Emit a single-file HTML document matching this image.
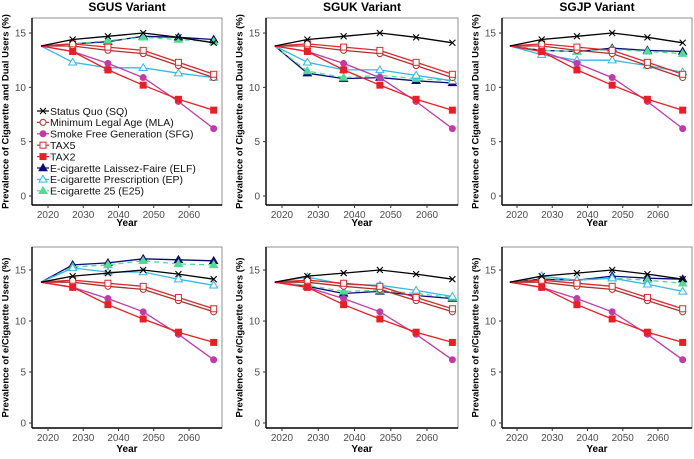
<!DOCTYPE html>
<html><head><meta charset="utf-8"><style>
body{margin:0;background:#fff;}
svg{display:block;font-family:"Liberation Sans",sans-serif;}
</style></head><body>
<svg id="chart" width="694" height="459" viewBox="0 0 694 459" xmlns="http://www.w3.org/2000/svg"></svg>
<script>
const years = [2018, 2027, 2037, 2047, 2057, 2067];
const xTicks = [2020, 2030, 2040, 2050, 2060];
const yTicks = [0, 5, 10, 15];
const panelTitles = ["SGUS Variant", "SGUK Variant", "SGJP Variant"];
const rowTitles = ["Prevalence of Cigarette and Dual Users (%)", "Prevalence of e/Cigarette Users (%)"];
const seriesNames = ["Status Quo (SQ)","Minimum Legal Age (MLA)","Smoke Free Generation (SFG)","TAX5","TAX2","E-cigarette Laissez-Faire (ELF)","E-cigarette Prescription (EP)","E-cigarette 25 (E25)"];
const sq = [13.8, 14.4, 14.7, 15.0, 14.6, 14.1];
const mla = [13.8, 13.8, 13.4, 13.1, 12.0, 10.9];
const sfg = [13.8, 13.3, 12.2, 10.9, 8.7, 6.2];
const tax5 = [13.8, 14.0, 13.7, 13.4, 12.3, 11.2];
const tax2 = [13.8, 13.3, 11.6, 10.2, 8.9, 7.9];
// top row (cigarette and dual users)
const elfTop = [[13.8,14.0,14.2,14.7,14.6,14.4],[13.8,11.3,10.8,10.9,10.6,10.4],[13.8,13.4,13.3,13.6,13.4,13.3]];
const epTop = [[13.8,12.3,11.8,11.8,11.3,10.9],[13.8,12.3,11.6,11.6,11.1,10.6],[13.8,13.0,12.5,12.5,12.0,11.4]];
const e25Top = [[13.8,14.0,14.3,14.6,14.4,14.2],[13.8,11.5,10.9,11.1,10.8,10.6],[13.8,13.4,13.3,13.5,13.3,13.1]];
// bottom row (e/cigarette users)
const elfBot = [[13.8,15.5,15.7,16.1,16.0,15.9],[13.8,13.4,12.7,12.9,12.5,12.2],[13.8,14.1,14.0,14.4,14.2,14.1]];
const epBot = [[13.8,15.2,14.8,14.8,14.1,13.5],[13.8,14.3,13.6,13.5,13.0,12.4],[13.8,14.4,14.0,14.2,13.6,12.9]];
const e25Bot = [[13.8,15.3,15.5,15.9,15.6,15.5],[13.8,13.5,12.9,13.0,12.7,12.3],[13.8,14.2,14.0,14.2,14.0,13.7]];

const NS = "http://www.w3.org/2000/svg";
const svg = document.getElementById('chart');
function mk(tag, attrs, parent){const e=document.createElementNS(NS,tag);for(const k in attrs)e.setAttribute(k,attrs[k]);(parent||svg).appendChild(e);return e;}

const colL=[32,266,502], colR=[222,458,692], x2020=[48,282,517], x2060=[189,427,658];
const rows=[{top:18,bot:205,y15:33,y0:196,title:226},{top:247,bot:428,y15:270,y0:423,title:452}];
const styles=[
 {c:"#000000",m:"x",fill:"none"},
 {c:"#b0302a",m:"circle",fill:"#fff"},
 {c:"#c23aa8",m:"circle",fill:"#c23aa8"},
 {c:"#e2262c",m:"square",fill:"#fff"},
 {c:"#ee1c24",m:"square",fill:"#ee1c24"},
 {c:"#0a0a78",m:"tri",fill:"#0a0a78"},
 {c:"#35b8e6",m:"tri",fill:"#fff"},
 {c:"#4fdc94",m:"tri",fill:"#4fdc94",dash:"5,4"}
];
function marker(g,st,x,y){
  if(st.m==="x"){mk('path',{d:`M${x-3},${y-3}L${x+3},${y+3}M${x-3},${y+3}L${x+3},${y-3}`,stroke:st.c,'stroke-width':1.1},g);}
  else if(st.m==="circle"){mk('circle',{cx:x,cy:y,r:3,fill:st.fill,stroke:st.c,'stroke-width':1},g);}
  else if(st.m==="square"){mk('rect',{x:x-3,y:y-3,width:6,height:6,fill:st.fill,stroke:st.c,'stroke-width':1},g);}
  else {mk('path',{d:`M${x},${y-4}L${x+4},${y+2.7}L${x-4},${y+2.7}Z`,fill:st.fill,stroke:st.c,'stroke-width':1},g);}
}
for(let r=0;r<2;r++){
 for(let c=0;c<3;c++){
  const R=rows[r];
  const xs=v=>x2020[c]+(v-2020)*(x2060[c]-x2020[c])/40;
  const ys=v=>R.y0+(R.y15-R.y0)*v/15;
  const g=mk('g',{});
  
  
  mk('rect',{x:colL[c],y:R.top,width:colR[c]-colL[c],height:R.bot-R.top,fill:'none',stroke:'#777','stroke-width':0.8},g);
  mk('line',{x1:colL[c],y1:R.top,x2:colL[c],y2:R.bot,stroke:'#000','stroke-width':1.4},g);
  mk('line',{x1:colL[c],y1:R.bot,x2:colR[c],y2:R.bot,stroke:'#000','stroke-width':1.4},g);
  yTicks.forEach(t=>{const y=ys(t);mk('line',{x1:colL[c]-3,x2:colL[c],y1:y,y2:y,stroke:'#333'},g);
   const tx=mk('text',{x:colL[c]-6,y:y+3.5,'text-anchor':'end','font-size':10,fill:'#4d4d4d'},g);tx.textContent=t;
   });
  xTicks.forEach(t=>{const x=xs(t);mk('line',{x1:x,x2:x,y1:R.bot,y2:R.bot+3,stroke:'#333'},g);
   const tx=mk('text',{x:x,y:R.bot+13,'text-anchor':'middle','font-size':10,fill:'#4d4d4d'},g);tx.textContent=t;
   });
  const xt=mk('text',{x:(colL[c]+colR[c])/2,y:R.title,'text-anchor':'middle','font-size':10,'font-weight':'bold'},g);xt.textContent='Year';
  
  const tx0=[6,240,476][c], cy=(R.top+R.bot)/2;
  const yt=mk('text',{x:tx0,y:cy,transform:`rotate(-90 ${tx0} ${cy})`,'text-anchor':'middle','dominant-baseline':'central','font-size':9.5,'font-weight':'bold'},g);yt.textContent=rowTitles[r];
  
  if(r===0){const pt=mk('text',{x:(colL[c]+colR[c])/2,y:11,'text-anchor':'middle','font-size':12,'font-weight':'bold'},g);pt.textContent=panelTitles[c];
   }
  const data=[sq,mla,sfg,tax5,tax2,(r?elfBot:elfTop)[c],(r?epBot:epTop)[c],(r?e25Bot:e25Top)[c]];
  const order=[5,7,6,1,3,2,4,0];
  order.forEach(i=>{
   const st=styles[i], sg=mk('g',{},g);
   
   
   const d=data[i].map((v,k)=>(k?'L':'M')+xs(years[k]).toFixed(1)+','+ys(v).toFixed(1)).join('');
   const p=mk('path',{d:d,fill:'none',stroke:st.c,'stroke-width':1.3},sg);
   if(st.dash)p.setAttribute('stroke-dasharray',st.dash);
   data[i].forEach((v,k)=>{if(k>0)marker(sg,st,xs(years[k]),ys(v));});
  });
 }
}
// legend
const lg=mk('g',{});


seriesNames.forEach((n,i)=>{
 const y=111+i*11.4, st=styles[i];
 const e=mk('g',{},lg);
 
 
 const l=mk('line',{x1:37,x2:49,y1:y,y2:y,stroke:st.c,'stroke-width':1.2},e);
 if(st.dash)l.setAttribute('stroke-dasharray','3,2');
 marker(e,st,43,y);
 const t=mk('text',{x:50,y:y+3.8,'font-size':10.5,fill:'#111'},e);t.textContent=n;
});
</script>
</body></html>
